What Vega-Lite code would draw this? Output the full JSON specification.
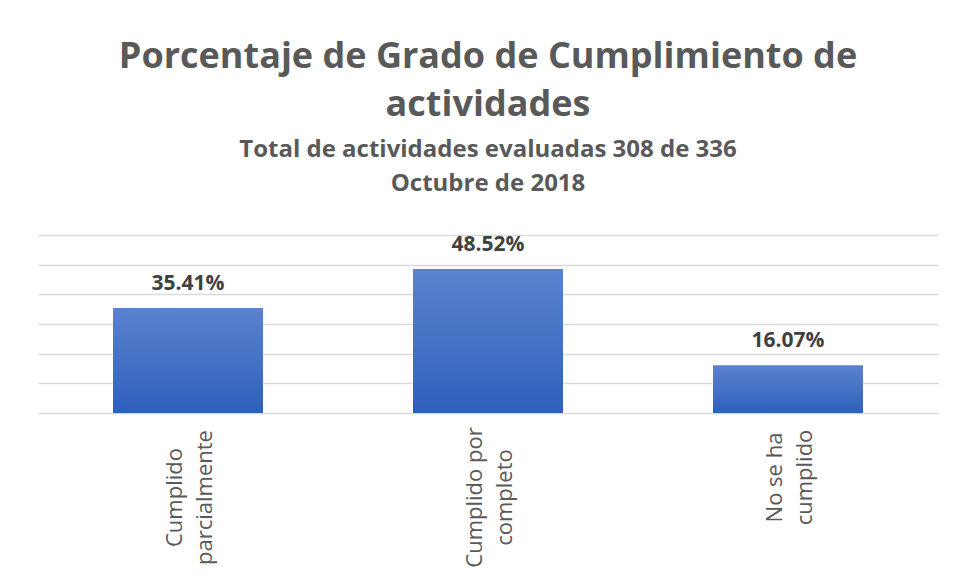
{
  "$schema": "https://vega.github.io/schema/vega-lite/v6.json",
  "width": 900,
  "height": 178,
  "autosize": {"type": "none"},
  "padding": {"left": 38, "top": 235, "right": 20, "bottom": 167},
  "background": "white",
  "title": {
    "text": ["Porcentaje de Grado de Cumplimiento de", "actividades"],
    "subtitle": ["Total de actividades evaluadas 308 de 336", "Octubre de 2018"],
    "anchor": "middle",
    "frame": "group",
    "font": "Open Sans",
    "fontSize": 36,
    "fontWeight": "bold",
    "color": "#595959",
    "lineHeight": 48,
    "subtitleFont": "Open Sans",
    "subtitleFontSize": 24,
    "subtitleFontWeight": "bold",
    "subtitleColor": "#595959",
    "subtitleLineHeight": 34,
    "subtitlePadding": 14,
    "offset": 37
  },
  "data": {
    "values": [
      {"categoria": "Cumplido parcialmente", "porcentaje": 0.3541},
      {"categoria": "Cumplido por completo", "porcentaje": 0.4852},
      {"categoria": "No se ha cumplido", "porcentaje": 0.1607}
    ]
  },
  "encoding": {
    "x": {
      "field": "categoria",
      "type": "nominal",
      "sort": null,
      "scale": {"paddingInner": 0.5, "paddingOuter": 0.25},
      "axis": {
        "title": null,
        "domain": false,
        "ticks": false,
        "tickSize": 0,
        "labelAngle": -90,
        "labelAlign": "center",
        "labelBaseline": "middle",
        "labelFont": "Open Sans",
        "labelFontSize": 22,
        "labelColor": "#595959",
        "labelLineHeight": 30,
        "labelOffset": -13,
        "labelOverlap": false,
        "labelPadding": {"condition": {"test": "datum.value === 'No se ha cumplido'", "value": 64}, "value": 84},
        "labelExpr": "datum.value === 'Cumplido parcialmente' ? ['Cumplido', 'parcialmente'] : datum.value === 'Cumplido por completo' ? ['Cumplido por', 'completo'] : ['No se ha', 'cumplido']"
      }
    },
    "y": {
      "field": "porcentaje",
      "type": "quantitative",
      "scale": {"domain": [0, 0.6]},
      "axis": {
        "title": null,
        "labels": false,
        "ticks": false,
        "domain": false,
        "values": [0, 0.1, 0.2, 0.3, 0.4, 0.5, 0.6],
        "gridColor": "#d9d9d9",
        "gridWidth": 1.5
      }
    }
  },
  "layer": [
    {
      "mark": {
        "type": "bar",
        "color": {
          "x1": 0, "y1": 0, "x2": 0, "y2": 1,
          "gradient": "linear",
          "stops": [
            {"offset": 0, "color": "#5b82cf"},
            {"offset": 0.5, "color": "#4472c4"},
            {"offset": 1, "color": "#2f5fbd"}
          ]
        }
      }
    },
    {
      "mark": {
        "type": "text",
        "baseline": "alphabetic",
        "dy": -18,
        "font": "Open Sans",
        "fontSize": 21,
        "fontWeight": "bold",
        "color": "#404040"
      },
      "encoding": {
        "text": {"field": "porcentaje", "type": "quantitative", "format": ".2%"}
      }
    }
  ],
  "config": {
    "view": {"stroke": null}
  }
}
